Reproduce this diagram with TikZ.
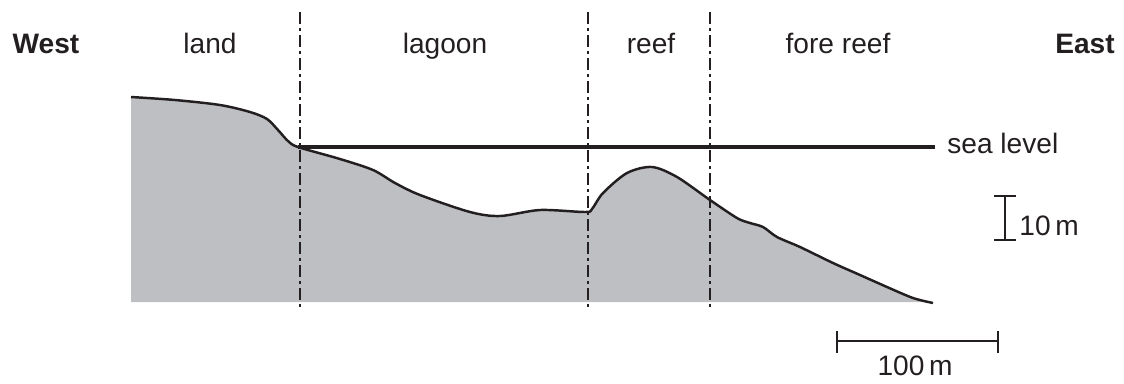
\documentclass[tikz,border=0pt]{standalone}
\usepackage{fontspec}
\setmainfont{Liberation Sans}
\usepackage{tikz}
\usetikzlibrary{arrows.meta, positioning, calc}
\definecolor{groundgray}{RGB}{190,191,194}
\definecolor{ink}{RGB}{35,31,32}
\tikzset{
  zoneline/.style={ink, line width=0.7pt, dash pattern=on 6.8pt off 2.3pt on 1.7pt off 2.3pt},
  ground/.style={fill=groundgray},
  profile/.style={ink, line width=1.4pt, line join=round},
  sealine/.style={ink, line width=2pt},
  scalebar/.style={ink, line width=0.6pt},
  lbl/.style={font=\fontsize{16}{19}\selectfont, text=ink, inner sep=0pt, anchor=base},
  endlbl/.style={lbl, font=\fontsize{16}{19}\selectfont\bfseries},
}
% sea-floor profile, west to east
\newcommand\seafloor{plot[smooth, tension=0.5] coordinates {
  (131,97) (175,100) (220,105) (250,112) (267,119) (278,130) (288,141) (298,147)
  (340,159) (373,170) (395,183) (420,195) (470,212) (500,216) (540,210) (585,212)
  (592,209) (603,193) (627,173) (652,167) (677,177) (710,200) (737,218) (750,223)
  (763,227) (777,237) (800,247) (833,263) (860,275) (887,287) (913,298) (933,303)}}

\begin{document}
\begin{tikzpicture}[x=0.02cm, y=-0.02cm]
  \useasboundingbox (0,0) rectangle (1124,383);

  % ground
  \fill[ground] \seafloor -- (933,302) -- (131,302) -- cycle;
  \draw[profile] \seafloor;

  % zone boundaries
  \foreach \zx/\zn in {300/landedge, 588/reefwest, 710/reefeast}
    \draw[zoneline] (\zx,12) coordinate (\zn-top) -- (\zx,307) coordinate (\zn-bot);

  % sea level
  \coordinate (shore) at (298,147);
  \node[lbl, anchor=base west] (sealbl) at (947,153) {sea level};
  \draw[sealine] (shore) -- (935,147);

  % zone labels
  \node[endlbl] (west) at (46,53) {West};
  \node[lbl] (land) at (210,53) {land};
  \node[lbl] (lagoon) at (445,53) {lagoon};
  \node[lbl] (reef) at (651,53) {reef};
  \node[lbl] (forereef) at (838,53) {fore reef};
  \node[endlbl] (east) at (1085,53) {East};

  % vertical scale
  \coordinate (vtop) at (1005,196);
  \coordinate (vbot) at (1005,240);
  \draw[scalebar] (vtop) -- (vbot);
  \draw[scalebar] ($(vtop)+(-11,0)$) -- ($(vtop)+(11,0)$);
  \draw[scalebar] ($(vbot)+(-11,0)$) -- ($(vbot)+(11,0)$);
  \node[lbl, anchor=base west] (vlbl) at (1019,235) {10\,m};

  % horizontal scale
  \coordinate (hleft) at (837,341);
  \coordinate (hright) at (998,341);
  \draw[scalebar] (hleft) -- (hright);
  \draw[scalebar] ($(hleft)+(0,-10)$) -- ($(hleft)+(0,12)$);
  \draw[scalebar] ($(hright)+(0,-10)$) -- ($(hright)+(0,12)$);
  \node[lbl] (hlbl) at (915,375) {100\,m};
\end{tikzpicture}
\end{document}
